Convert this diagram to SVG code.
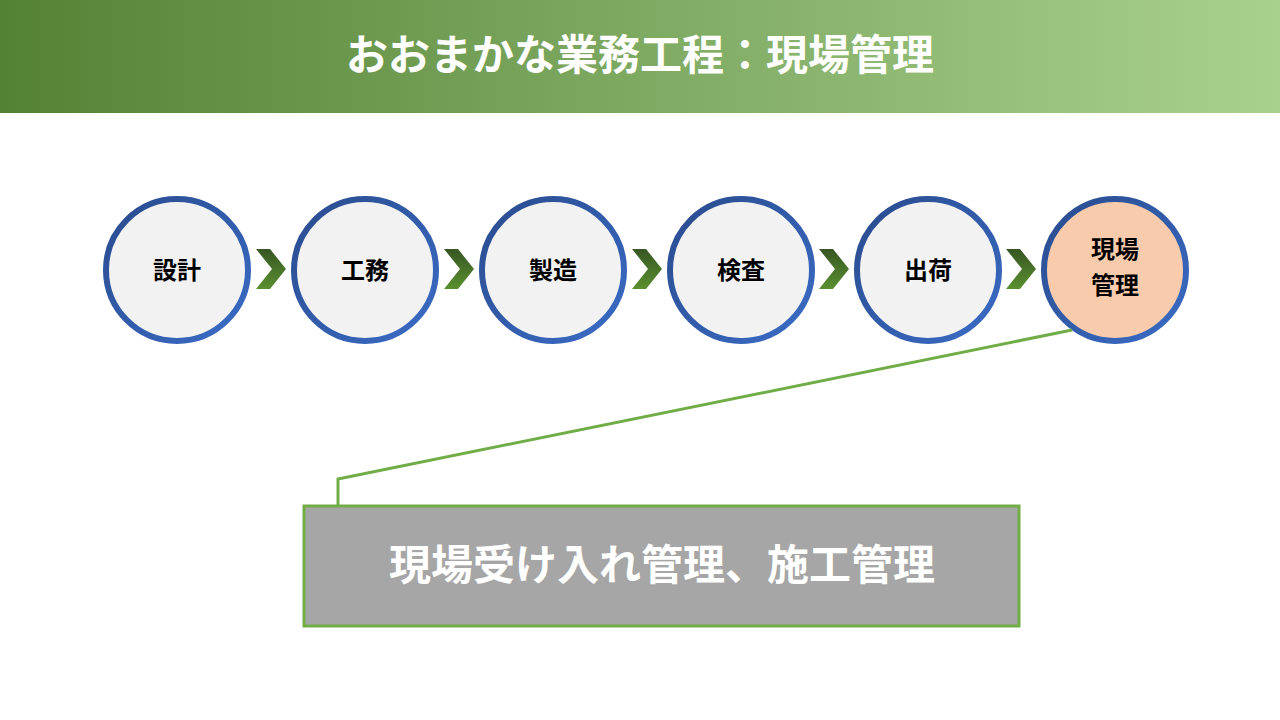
<svg xmlns="http://www.w3.org/2000/svg" width="1280" height="720" viewBox="0 0 1280 720">
<defs>
<linearGradient id="hd" x1="0" y1="0" x2="1" y2="0"><stop offset="0" stop-color="#548235"/><stop offset="1" stop-color="#a9d18e"/></linearGradient>
<linearGradient id="ring" x1="0" y1="0" x2="1" y2="1"><stop offset="0" stop-color="#2a4b8d"/><stop offset="1" stop-color="#3a6cc6"/></linearGradient>
<linearGradient id="chev" x1="0" y1="0" x2="0" y2="1"><stop offset="0" stop-color="#375623"/><stop offset="1" stop-color="#5a9030"/></linearGradient>
<style>
.c{stroke:url(#ring);stroke-width:6;fill:#f2f2f2}
.t{font-family:"Noto Sans CJK JP","Noto Sans",sans-serif;font-weight:bold;font-size:24px;fill:#000;text-anchor:middle}
.ch{fill:url(#chev)}
</style>
</defs>
<rect x="0" y="0" width="1280" height="113" fill="url(#hd)"/>
<text x="640" y="70" text-anchor="middle" font-family="'Noto Sans CJK JP','Noto Sans',sans-serif" font-weight="bold" font-size="42" fill="#fff">おおまかな業務工程：現場管理</text>
<g id="arrows">
<polygon class="ch" points="256,249 270,249 286,269 270,289 256,289 272,269"/>
<polygon class="ch" points="444,249 458,249 474,269 458,289 444,289 460,269"/>
<polygon class="ch" points="632,249 646,249 662,269 646,289 632,289 648,269"/>
<polygon class="ch" points="819,249 833,249 849,269 833,289 819,289 835,269"/>
<polygon class="ch" points="1006,249 1020,249 1036,269 1020,289 1006,289 1022,269"/>
</g>
<g id="n1"><circle class="c" cx="177" cy="270" r="71"/><text class="t" x="177" y="279">設計</text></g>
<g id="n2"><circle class="c" cx="365" cy="270" r="71"/><text class="t" x="365" y="279">工務</text></g>
<g id="n3"><circle class="c" cx="553" cy="270" r="71"/><text class="t" x="553" y="279">製造</text></g>
<g id="n4"><circle class="c" cx="741" cy="270" r="71"/><text class="t" x="741" y="279">検査</text></g>
<g id="n5"><circle class="c" cx="928" cy="270" r="71"/><text class="t" x="928" y="279">出荷</text></g>
<g id="n6"><circle class="c" cx="1115" cy="270" r="71" style="fill:#f8cbad"/><text class="t" x="1115" y="258">現場</text><text class="t" x="1115" y="294">管理</text></g>
<g id="connectors"><polyline points="1072,330 338,479 338,506" fill="none" stroke="#70ad47" stroke-width="3"/></g>
<g id="callout"><rect x="304" y="506" width="715" height="120" fill="#a6a6a6" stroke="#70ad47" stroke-width="3"/>
<text x="662" y="580" text-anchor="middle" font-family="'Noto Sans CJK JP','Noto Sans',sans-serif" font-weight="bold" font-size="42" fill="#fff">現場受け入れ管理、施工管理</text></g>
</svg>
